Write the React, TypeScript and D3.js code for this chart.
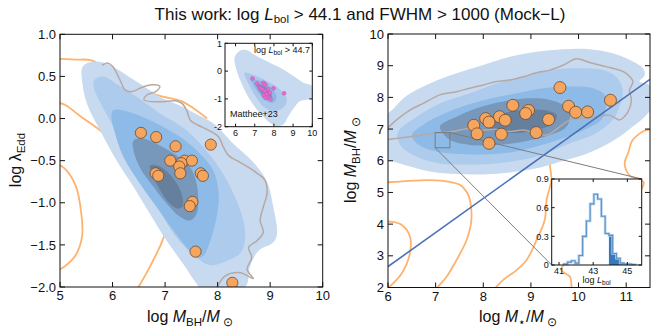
import React from 'react';
import * as d3 from 'd3';

type P = [number, number];

// ---- left panel: log MBH vs log lambda_Edd (this work) ----
const edMass = [6.54, 6.83, 7.20, 7.87, 7.10, 7.37, 7.51, 7.31, 7.27, 7.29, 6.82, 6.87, 7.68, 7.72, 7.52, 7.47, 7.58, 8.28];
const edLam = [-0.17, -0.22, -0.33, -0.31, -0.50, -0.50, -0.50, -0.53, -0.57, -0.65, -0.65, -0.68, -0.65, -0.68, -0.99, -1.04, -1.58, -1.95];

// inset: Matthee+23
const mtMass = [6.88, 7.12, 7.44, 7.56, 7.26, 7.40, 7.53, 7.70, 7.98, 7.79, 7.62, 7.47, 7.70, 7.83, 8.53, 7.56];
const mtLam = [-0.27, -0.45, -0.42, -0.48, -0.60, -0.65, -0.72, -0.65, -0.62, -0.78, -0.83, -0.87, -0.96, -1.01, -0.80, -0.96];

// mock density contours (outer -> inner), read by eye
const edContours: P[][] = [
  [[5.42, 0.6], [5.52, 0.66], [5.78, 0.67], [6.05, 0.6], [6.35, 0.48], [6.65, 0.36], [6.95, 0.24], [7.3, 0.15], [7.6, 0.05], [7.92, -0.06], [8.3, -0.3], [8.68, -0.52], [8.94, -0.75], [9.06, -1.05], [9.13, -1.37], [9.06, -1.47], [8.78, -1.57], [8.62, -1.75], [8.55, -1.98], [8.3, -2.1], [7.8, -2.1], [7.6, -1.96], [7.35, -1.73], [7.03, -1.45], [6.71, -1.13], [6.4, -0.81], [6.08, -0.5], [5.76, -0.14], [5.51, 0.18], [5.42, 0.45]],
  [[5.66, 0.46], [5.82, 0.5], [6.1, 0.4], [6.5, 0.24], [6.9, 0.06], [7.41, -0.14], [7.98, -0.54], [8.3, -0.89], [8.49, -1.21], [8.52, -1.45], [8.43, -1.6], [8.17, -1.69], [7.85, -1.74], [7.55, -1.62], [7.2, -1.4], [6.9, -1.1], [6.6, -0.8], [6.3, -0.45], [6.0, -0.08], [5.76, 0.2], [5.64, 0.37]],
  [[6.02, 0.1], [6.4, 0.06], [6.78, -0.04], [7.29, -0.22], [7.67, -0.42], [7.92, -0.62], [8.02, -0.89], [7.98, -1.17], [7.86, -1.45], [7.73, -1.63], [7.6, -1.65], [7.41, -1.53], [7.16, -1.33], [6.84, -1.05], [6.52, -0.77], [6.21, -0.46], [6.05, -0.18], [5.98, 0.02]],
  [[6.4, -0.26], [6.59, -0.24], [6.9, -0.32], [7.22, -0.44], [7.48, -0.58], [7.6, -0.77], [7.63, -0.97], [7.6, -1.13], [7.48, -1.21], [7.29, -1.17], [7.03, -1.01], [6.78, -0.81], [6.52, -0.58], [6.4, -0.38]],
  [[6.71, -0.56], [6.87, -0.56], [7.1, -0.67], [7.29, -0.85], [7.34, -1.03], [7.25, -1.07], [7.06, -0.99], [6.87, -0.81], [6.75, -0.65]],
];
const edGrey: P[] = [[5.8, 0.63], [5.9, 0.66], [6.0, 0.62], [6.14, 0.46], [6.24, 0.34], [6.37, 0.32], [6.52, 0.36], [6.75, 0.4], [6.9, 0.38], [6.82, 0.32], [6.65, 0.28], [6.6, 0.22], [6.9, 0.2], [7.2, 0.21], [7.32, 0.18], [7.41, 0.1], [7.48, -0.02], [7.63, -0.08], [7.83, -0.14], [8.02, -0.22], [8.11, -0.34], [8.21, -0.44], [8.37, -0.5], [8.59, -0.58], [8.75, -0.65], [8.9, -0.73], [8.94, -0.89], [8.87, -1.05], [8.81, -1.21], [8.87, -1.35], [8.75, -1.45], [8.59, -1.53], [8.65, -1.65], [8.56, -1.79], [8.68, -1.9], [8.43, -1.83], [8.14, -1.87], [8.01, -1.98], [7.95, -2.05]];
const edOrange: P[][] = [
  [[4.9, 0.71], [5.3, 0.7], [5.6, 0.69], [6.0, 0.55], [6.5, 0.36], [6.9, 0.27], [7.3, 0.21], [7.5, 0.14], [7.8, 0.0]],
  [[4.9, 0.2], [5.1, 0.16], [5.4, 0.02], [5.76, -0.14], [6.2, -0.4], [6.6, -0.75], [6.95, -1.1], [7.03, -1.25], [6.95, -1.45], [6.84, -1.6], [6.65, -1.83], [6.45, -2.05]],
  [[4.9, -0.52], [5.1, -0.6], [5.3, -0.8], [5.4, -1.1], [5.42, -1.4], [5.3, -1.62], [5.1, -1.75], [4.9, -1.82]],
];
const insetContours: P[][] = [
  [[5.95, 0.48], [6.21, 0.72], [6.56, 0.76], [7.09, 0.54], [7.79, 0.3], [8.49, 0.06], [9.02, -0.18], [9.54, -0.42], [9.98, -0.54], [9.98, -0.96], [9.37, -1.08], [9.11, -1.26], [8.75, -1.62], [8.49, -1.92], [8.14, -1.98], [7.79, -1.86], [7.26, -1.5], [6.74, -1.02], [6.3, -0.42], [6.04, 0.06]],
  [[6.47, -0.06], [7.09, -0.18], [7.79, -0.42], [8.32, -0.66], [8.67, -1.02], [8.49, -1.32], [8.05, -1.44], [7.53, -1.32], [7.09, -0.96], [6.65, -0.42]],
  [[6.82, -0.3], [7.35, -0.36], [7.88, -0.6], [8.14, -0.96], [7.96, -1.14], [7.61, -1.08], [7.18, -0.78], [6.91, -0.48]],
  [[7.09, -0.48], [7.44, -0.52], [7.79, -0.72], [7.88, -0.96], [7.61, -1.0], [7.3, -0.78]],
];

// ---- right panel: log M* vs log MBH ----
const msStar = [9.61, 10.67, 8.62, 9.79, 9.94, 10.19, 8.95, 8.89, 8.05, 8.34, 8.46, 8.12, 9.37, 7.80, 7.87, 8.38, 9.11, 8.12];
const msBh = [8.31, 7.91, 7.75, 7.72, 7.53, 7.54, 7.59, 7.49, 7.33, 7.39, 7.28, 7.22, 7.30, 7.12, 6.85, 6.84, 6.89, 6.55];

const relStar = [6, 11.5];
const relBh = [2.66, 8.57];

const zoomBox = { x: [6.99, 7.3], y: [6.41, 6.89] };

const msContours: P[][] = [
  [[5.9, 7.3], [6.12, 7.65], [6.39, 8.05], [6.88, 8.44], [7.44, 8.76], [8.0, 9.02], [8.56, 9.28], [9.12, 9.44], [9.68, 9.52], [10.23, 9.52], [10.72, 9.39], [11.14, 9.13], [11.35, 8.92], [11.39, 8.71], [11.28, 8.5], [11.49, 8.39], [11.6, 8.1], [11.55, 7.7], [11.39, 7.39], [11.14, 7.08], [10.86, 6.76], [10.51, 6.45], [10.1, 6.18], [9.61, 5.97], [9.12, 5.76], [8.56, 5.63], [8.0, 5.57], [7.44, 5.58], [6.88, 5.66], [6.39, 5.85], [6.0, 6.03], [5.9, 6.1]],
  [[6.2, 6.87], [6.6, 7.39], [7.09, 7.81], [7.72, 8.13], [8.28, 8.44], [8.84, 8.65], [9.4, 8.86], [9.96, 8.92], [10.51, 8.86], [10.79, 8.65], [10.93, 8.23], [10.86, 7.71], [10.72, 7.29], [10.37, 6.87], [9.82, 6.55], [9.26, 6.2], [8.7, 6.0], [8.14, 5.9], [7.58, 5.88], [7.02, 5.93], [6.53, 6.18], [6.26, 6.5]],
  [[6.5, 6.8], [6.8, 7.2], [7.2, 7.5], [7.7, 7.78], [8.2, 7.98], [8.7, 8.13], [9.26, 8.29], [9.82, 8.34], [10.3, 8.29], [10.55, 8.08], [10.58, 7.71], [10.48, 7.29], [10.16, 7.0], [9.68, 6.72], [9.12, 6.45], [8.56, 6.26], [8.0, 6.2], [7.44, 6.22], [7.0, 6.3], [6.65, 6.5]],
  [[7.09, 7.08], [7.44, 7.39], [7.86, 7.66], [8.42, 7.87], [8.98, 7.97], [9.4, 7.92], [9.68, 7.76], [9.82, 7.5], [9.75, 7.08], [9.4, 6.81], [8.84, 6.6], [8.28, 6.5], [7.72, 6.5], [7.3, 6.66]],
  [[8.07, 7.29], [8.42, 7.5], [8.84, 7.6], [9.26, 7.6], [9.54, 7.44], [9.47, 7.18], [9.12, 6.97], [8.63, 6.87], [8.21, 6.97]],
];
const msGrey: P[] = [[5.95, 6.66], [6.46, 6.76], [6.88, 6.85], [7.16, 6.89], [7.44, 6.95], [7.72, 7.02], [8.0, 6.97], [8.28, 6.99], [8.56, 6.92], [8.84, 6.97], [9.12, 6.87], [9.33, 6.81], [9.47, 6.92], [9.61, 7.08], [9.82, 7.29], [10.1, 7.34], [10.37, 7.39], [10.65, 7.44], [10.86, 7.29], [11.04, 7.55], [11.11, 7.92], [11.07, 8.23], [11.14, 8.5], [11.0, 8.76], [10.86, 8.86], [10.58, 8.97], [10.23, 9.1], [9.96, 9.22], [9.68, 9.02], [9.4, 8.86], [9.12, 8.78], [8.84, 8.65], [8.56, 8.55], [8.28, 8.5], [8.0, 8.39], [7.72, 8.29], [7.44, 8.18], [7.09, 8.08], [6.74, 7.81], [6.46, 7.6], [6.18, 7.29], [5.95, 6.97]];
const msOrange: P[][] = [
  [[5.95, 7.3], [6.05, 7.45], [6.18, 7.62], [6.35, 7.82], [6.6, 8.0]],
  [[5.9, 5.31], [6.3, 5.35], [6.88, 5.39], [7.3, 5.33], [7.51, 5.24], [7.66, 5.0], [7.72, 4.76], [7.75, 4.13], [7.65, 3.5], [7.44, 2.87], [7.23, 2.34], [7.05, 2.03], [6.98, 1.9]],
  [[5.9, 4.08], [6.1, 4.07], [6.29, 3.97], [6.46, 3.61], [6.46, 3.08], [6.29, 2.45], [6.04, 2.03], [5.98, 1.95]],
  [[8.2, 1.9], [8.28, 2.03], [8.42, 2.24], [8.7, 2.55], [8.91, 2.87], [9.12, 3.5], [9.29, 4.13], [9.33, 4.77], [9.43, 5.4], [9.4, 5.92], [9.45, 6.2]],
  [[9.85, 1.95], [9.85, 2.08], [9.82, 2.34], [9.64, 2.55], [9.7, 2.75]],
  [[11.6, 6.95], [11.42, 6.97], [11.14, 6.66], [11.04, 6.24], [10.97, 5.95], [11.0, 5.7], [11.1, 5.5], [11.28, 5.42], [11.37, 5.31], [11.32, 5.1]],
];

// inset histogram of log Lbol
const histEdges = [41.28, 41.5, 41.72, 41.94, 42.16, 42.38, 42.6, 42.82, 43.04, 43.26, 43.48, 43.7, 43.92, 44.14, 44.36, 44.58, 44.8, 45.02, 45.24, 45.46];
const histAll = [0.01, 0.03, 0.045, 0.02, 0.1, 0.3, 0.46, 0.64, 0.74, 0.69, 0.51, 0.33, 0.31, 0.12, 0.07, 0.02, 0.01, 0.01, 0.005];
const histCut = 12; // first bin above the luminosity cut

const fills = ['#c7daef', '#adcbec', '#8dbae6', '#7898bb', '#667f9c'];
const insetFills = ['#c7daef', '#a9c8ea', '#8bb8e4', '#7493b5'];
const FONT = 'Liberation Sans, Arial, Helvetica, sans-serif';

type Lin = d3.ScaleLinear<number, number>;

function closedPath(sx: Lin, sy: Lin) {
  return d3.line<P>().x(d => sx(d[0])).y(d => sy(d[1])).curve(d3.curveCatmullRomClosed.alpha(0.5));
}
function openPath(sx: Lin, sy: Lin) {
  return d3.line<P>().x(d => sx(d[0])).y(d => sy(d[1])).curve(d3.curveCatmullRom.alpha(0.5));
}

function Frame({ sx, sy, xt, yt, len, fs, fx, fy, gap }: {
  sx: Lin; sy: Lin; xt: number[]; yt: number[]; len: number; fs: number;
  fx: (v: number) => string; fy: (v: number) => string; gap: number;
}) {
  const [x0, x1] = sx.range();
  const [y0, y1] = sy.range();
  return (
    <g fontFamily={FONT} fontSize={fs} fill="#111">
      <g stroke="#111" strokeWidth={1}>
        {xt.map(t => (
          <g key={'x' + t}>
            <line x1={sx(t)} x2={sx(t)} y1={y0} y2={y0 - len} />
            <line x1={sx(t)} x2={sx(t)} y1={y1} y2={y1 + len} />
          </g>
        ))}
        {yt.map(t => (
          <g key={'y' + t}>
            <line x1={x0} x2={x0 + len} y1={sy(t)} y2={sy(t)} />
            <line x1={x1} x2={x1 - len} y1={sy(t)} y2={sy(t)} />
          </g>
        ))}
      </g>
      <rect x={x0} y={y1} width={x1 - x0} height={y0 - y1} fill="none" stroke="#111" strokeWidth={1} />
      {xt.map(t => (
        <text key={'xl' + t} x={sx(t)} y={y0 + gap + fs * 0.72} textAnchor="middle">{fx(t)}</text>
      ))}
      {yt.map(t => (
        <text key={'yl' + t} x={x0 - gap} y={sy(t) + fs * 0.36} textAnchor="end">{fy(t)}</text>
      ))}
    </g>
  );
}

function Dots({ sx, sy, xs, ys, r, fill, stroke, sw }: {
  sx: Lin; sy: Lin; xs: number[]; ys: number[]; r: number; fill: string; stroke: string; sw: number;
}) {
  return (
    <g>
      {xs.map((v, i) => (
        <circle key={i} cx={sx(v)} cy={sy(ys[i])} r={r} fill={fill} stroke={stroke} strokeWidth={sw} />
      ))}
    </g>
  );
}

export default function App() {
  const lx = d3.scaleLinear().domain([5, 10]).range([60, 322.7]);
  const ly = d3.scaleLinear().domain([-2, 1]).range([287, 34.3]);
  const ix = d3.scaleLinear().domain([5.45, 10]).range([225, 312.3]);
  const iy = d3.scaleLinear().domain([-2, 1]).range([126.7, 43.3]);
  const rx = d3.scaleLinear().domain([6, 11.5]).range([388, 650]);
  const ry = d3.scaleLinear().domain([2, 10]).range([287.5, 34]);
  const hx = d3.scaleLinear().domain([40.57, 45.84]).range([551.7, 641.7]);
  const hy = d3.scaleLinear().domain([0, 0.9]).range([265, 179]);

  const lClosed = closedPath(lx, ly);
  const lOpen = openPath(lx, ly);
  const iClosed = closedPath(ix, iy);
  const rClosed = closedPath(rx, ry);
  const rOpen = openPath(rx, ry);

  const stepPts: P[] = [[histEdges[0], 0]];
  histAll.forEach((v, i) => stepPts.push([histEdges[i], v]));
  stepPts.push([histEdges[histEdges.length - 1], histAll[histAll.length - 1]]);
  stepPts.push([histEdges[histEdges.length - 1], 0]);
  const step = d3.line<P>().x(d => hx(d[0])).y(d => hy(d[1])).curve(d3.curveStepAfter);

  const hiPts: P[] = histAll.slice(histCut).map((v, i) => [histEdges[histCut + i], v] as P);
  hiPts.push([histEdges[histEdges.length - 1], histAll[histAll.length - 1]]);
  const hiArea = d3.area<P>().x(d => hx(d[0])).y0(hy(0)).y1(d => hy(d[1])).curve(d3.curveStepAfter);

  const fmt1 = d3.format('.1f');
  const fmtI = (v: number) => String(v);

  const bx0 = rx(zoomBox.x[0]), bx1 = rx(zoomBox.x[1]);
  const by0 = ry(zoomBox.y[0]), by1 = ry(zoomBox.y[1]);

  return (
    <svg width={664} height={332} style={{ position: 'absolute', left: 0, top: 0, background: '#fff' }}>
      <defs>
        <clipPath id="clipL"><rect x={60} y={34.3} width={262.7} height={252.7} /></clipPath>
        <clipPath id="clipI"><rect x={225} y={43.3} width={87.3} height={83.4} /></clipPath>
        <clipPath id="clipR"><rect x={388} y={34} width={262} height={253.5} /></clipPath>
      </defs>

      <text x={360} y={20} textAnchor="middle" fontFamily={FONT} fontSize={17} fill="#111">
        This work: log <tspan fontStyle="italic">L</tspan><tspan fontSize={11.5} dy={3}>bol</tspan>
        <tspan dy={-3}> {'>'} 44.1 and FWHM {'>'} 1000 (Mock−L)</tspan>
      </text>

      {/* left panel */}
      <g clipPath="url(#clipL)">
        {edOrange.map((c, i) => (
          <path key={i} d={lOpen(c) ?? ''} fill="none" stroke="#ffb26e" strokeWidth={1.8} />
        ))}
        {edContours.map((c, i) => (
          <path key={i} d={lClosed(c) ?? ''} fill={fills[i]} />
        ))}
        <path d={lOpen(edGrey) ?? ''} fill="none" stroke="#b7a8a3" strokeWidth={1.5} />
        <Dots sx={lx} sy={ly} xs={edMass} ys={edLam} r={5.6} fill="#f5a55d" stroke="#6e4a2c" sw={0.8} />
      </g>
      <Frame sx={lx} sy={ly} xt={[5, 6, 7, 8, 9, 10]} yt={[-2, -1.5, -1, -0.5, 0, 0.5, 1]} len={5} fs={13} fx={fmtI} fy={fmt1} gap={4} />

      {/* left inset */}
      <rect x={225} y={43.3} width={87.3} height={83.4} fill="#fff" />
      <g clipPath="url(#clipI)">
        {insetContours.map((c, i) => (
          <path key={i} d={iClosed(c) ?? ''} fill={insetFills[i]} />
        ))}
        <Dots sx={ix} sy={iy} xs={mtMass} ys={mtLam} r={2} fill="#e46ad0" stroke="#c050b0" sw={0.4} />
      </g>
      <Frame sx={ix} sy={iy} xt={[6, 7, 8, 9, 10]} yt={[-2, -1, 0, 1]} len={3} fs={9} fx={fmtI} fy={fmtI} gap={3} />
      <text x={310} y={53} textAnchor="end" fontFamily={FONT} fontSize={9} fill="#111">
        log <tspan fontStyle="italic">L</tspan><tspan fontSize={6.5} dy={2}>bol</tspan><tspan dy={-2}> {'>'} 44.7</tspan>
      </text>
      <text x={230} y={117} fontFamily={FONT} fontSize={9} fill="#111">Matthee+23</text>

      {/* right panel */}
      <g clipPath="url(#clipR)">
        {msOrange.map((c, i) => (
          <path key={i} d={rOpen(c) ?? ''} fill="none" stroke="#ffb26e" strokeWidth={1.8} />
        ))}
        {msContours.map((c, i) => (
          <path key={i} d={rClosed(c) ?? ''} fill={fills[i]} />
        ))}
        <path d={rOpen(msGrey) ?? ''} fill="none" stroke="#b7a8a3" strokeWidth={1.5} />
        <line x1={rx(relStar[0])} y1={ry(relBh[0])} x2={rx(relStar[1])} y2={ry(relBh[1])} stroke="#4a70b5" strokeWidth={1.6} />
        <rect x={bx0} y={by1} width={bx1 - bx0} height={by0 - by1} fill="none" stroke="#7d7d7d" strokeWidth={1} />
        <line x1={bx1} y1={by1} x2={641.7} y2={179} stroke="#7d7d7d" strokeWidth={1} />
        <line x1={bx0} y1={by0} x2={551.7} y2={265} stroke="#7d7d7d" strokeWidth={1} />
        <Dots sx={rx} sy={ry} xs={msStar} ys={msBh} r={6} fill="#f5a55d" stroke="#6e4a2c" sw={0.8} />
      </g>
      <Frame sx={rx} sy={ry} xt={[6, 7, 8, 9, 10, 11]} yt={[2, 3, 4, 5, 6, 7, 8, 9, 10]} len={5} fs={13} fx={fmtI} fy={fmtI} gap={4} />

      {/* histogram inset */}
      <rect x={551.7} y={179} width={90} height={86} fill="#fff" />
      <path d={hiArea(hiPts) ?? ''} fill="#3b78b8" />
      <path d={step(stepPts) ?? ''} fill="none" stroke="#b3d0ee" strokeWidth={2.6} />
      <path d={step(stepPts) ?? ''} fill="none" stroke="#5b93cc" strokeWidth={1.1} />
      <Frame sx={hx} sy={hy} xt={[41, 43, 45]} yt={[0, 0.3, 0.6, 0.9]} len={3} fs={9} fx={fmtI} fy={v => (v === 0 ? '0' : fmt1(v))} gap={3} />
      <text x={hx(43.2)} y={283} textAnchor="middle" fontFamily={FONT} fontSize={9} fill="#111">
        log <tspan fontStyle="italic">L</tspan><tspan fontSize={6.5} dy={2}>bol</tspan>
      </text>

      {/* axis labels */}
      <g fontFamily={FONT} fontSize={16} fill="#111">
        <text x={190} y={322} textAnchor="middle">
          log <tspan fontStyle="italic">M</tspan><tspan fontSize={11.5} dy={4}>BH</tspan><tspan dy={-4}>/</tspan><tspan fontStyle="italic">M</tspan><tspan fontSize={11.5} dy={4}> ⊙</tspan>
        </text>
        <text x={518} y={322} textAnchor="middle">
          log <tspan fontStyle="italic">M</tspan><tspan fontSize={11.5} dy={4}>⋆</tspan><tspan dy={-4}>/</tspan><tspan fontStyle="italic">M</tspan><tspan fontSize={11.5} dy={4}> ⊙</tspan>
        </text>
        <text transform="translate(21,160) rotate(-90)" textAnchor="middle">
          log λ<tspan fontSize={11.5} dy={4}>Edd</tspan>
        </text>
        <text transform="translate(356,160) rotate(-90)" textAnchor="middle">
          log <tspan fontStyle="italic">M</tspan><tspan fontSize={11.5} dy={4}>BH</tspan><tspan dy={-4}>/</tspan><tspan fontStyle="italic">M</tspan><tspan fontSize={11.5} dy={4}> ⊙</tspan>
        </text>
      </g>
    </svg>
  );
}
